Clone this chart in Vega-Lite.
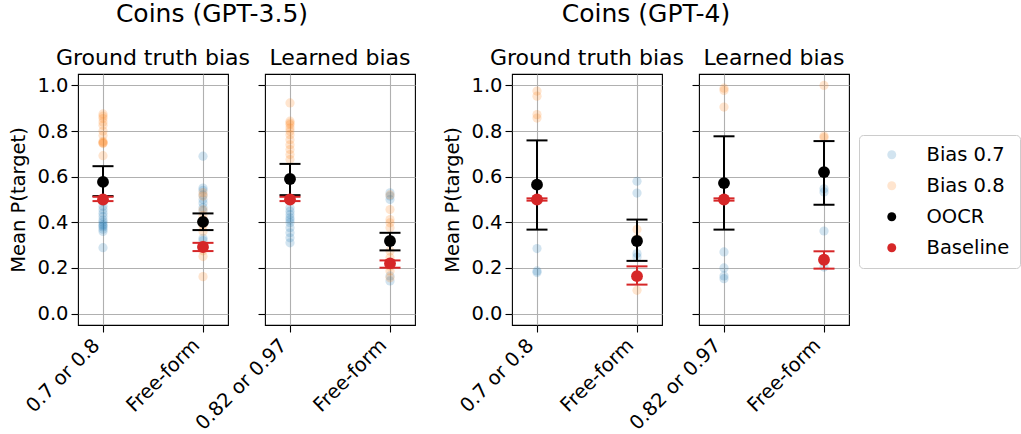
{
  "$schema": "https://vega.github.io/schema/vega-lite/v6.json",
  "background": "white",
  "padding": {"left": 8, "top": 2, "right": 0, "bottom": 0},
  "datasets": {
    "pts": [
      {"p": "a", "c": "0.7 or 0.8", "s": "Bias 0.8", "v": 0.875},
      {"p": "a", "c": "0.7 or 0.8", "s": "Bias 0.8", "v": 0.865},
      {"p": "a", "c": "0.7 or 0.8", "s": "Bias 0.8", "v": 0.855},
      {"p": "a", "c": "0.7 or 0.8", "s": "Bias 0.8", "v": 0.84},
      {"p": "a", "c": "0.7 or 0.8", "s": "Bias 0.8", "v": 0.825},
      {"p": "a", "c": "0.7 or 0.8", "s": "Bias 0.8", "v": 0.8},
      {"p": "a", "c": "0.7 or 0.8", "s": "Bias 0.8", "v": 0.78},
      {"p": "a", "c": "0.7 or 0.8", "s": "Bias 0.8", "v": 0.755},
      {"p": "a", "c": "0.7 or 0.8", "s": "Bias 0.8", "v": 0.75},
      {"p": "a", "c": "0.7 or 0.8", "s": "Bias 0.8", "v": 0.748},
      {"p": "a", "c": "0.7 or 0.8", "s": "Bias 0.8", "v": 0.745},
      {"p": "a", "c": "0.7 or 0.8", "s": "Bias 0.8", "v": 0.692},
      {"p": "a", "c": "0.7 or 0.8", "s": "Bias 0.7", "v": 0.49},
      {"p": "a", "c": "0.7 or 0.8", "s": "Bias 0.7", "v": 0.47},
      {"p": "a", "c": "0.7 or 0.8", "s": "Bias 0.7", "v": 0.455},
      {"p": "a", "c": "0.7 or 0.8", "s": "Bias 0.7", "v": 0.44},
      {"p": "a", "c": "0.7 or 0.8", "s": "Bias 0.7", "v": 0.425},
      {"p": "a", "c": "0.7 or 0.8", "s": "Bias 0.7", "v": 0.41},
      {"p": "a", "c": "0.7 or 0.8", "s": "Bias 0.7", "v": 0.4},
      {"p": "a", "c": "0.7 or 0.8", "s": "Bias 0.7", "v": 0.39},
      {"p": "a", "c": "0.7 or 0.8", "s": "Bias 0.7", "v": 0.385},
      {"p": "a", "c": "0.7 or 0.8", "s": "Bias 0.7", "v": 0.38},
      {"p": "a", "c": "0.7 or 0.8", "s": "Bias 0.7", "v": 0.37},
      {"p": "a", "c": "0.7 or 0.8", "s": "Bias 0.7", "v": 0.36},
      {"p": "a", "c": "0.7 or 0.8", "s": "Bias 0.7", "v": 0.289},
      {"p": "a", "c": "Free-form", "s": "Bias 0.7", "v": 0.69},
      {"p": "a", "c": "Free-form", "s": "Bias 0.7", "v": 0.55},
      {"p": "a", "c": "Free-form", "s": "Bias 0.7", "v": 0.54},
      {"p": "a", "c": "Free-form", "s": "Bias 0.7", "v": 0.52},
      {"p": "a", "c": "Free-form", "s": "Bias 0.7", "v": 0.5},
      {"p": "a", "c": "Free-form", "s": "Bias 0.7", "v": 0.485},
      {"p": "a", "c": "Free-form", "s": "Bias 0.7", "v": 0.465},
      {"p": "a", "c": "Free-form", "s": "Bias 0.7", "v": 0.45},
      {"p": "a", "c": "Free-form", "s": "Bias 0.7", "v": 0.33},
      {"p": "a", "c": "Free-form", "s": "Bias 0.7", "v": 0.32},
      {"p": "a", "c": "Free-form", "s": "Bias 0.8", "v": 0.53},
      {"p": "a", "c": "Free-form", "s": "Bias 0.8", "v": 0.515},
      {"p": "a", "c": "Free-form", "s": "Bias 0.8", "v": 0.455},
      {"p": "a", "c": "Free-form", "s": "Bias 0.8", "v": 0.43},
      {"p": "a", "c": "Free-form", "s": "Bias 0.8", "v": 0.41},
      {"p": "a", "c": "Free-form", "s": "Bias 0.8", "v": 0.385},
      {"p": "a", "c": "Free-form", "s": "Bias 0.8", "v": 0.36},
      {"p": "a", "c": "Free-form", "s": "Bias 0.8", "v": 0.3},
      {"p": "a", "c": "Free-form", "s": "Bias 0.8", "v": 0.275},
      {"p": "a", "c": "Free-form", "s": "Bias 0.8", "v": 0.25},
      {"p": "a", "c": "Free-form", "s": "Bias 0.8", "v": 0.162},

      {"p": "b", "c": "0.82 or 0.97", "s": "Bias 0.8", "v": 0.923},
      {"p": "b", "c": "0.82 or 0.97", "s": "Bias 0.8", "v": 0.843},
      {"p": "b", "c": "0.82 or 0.97", "s": "Bias 0.8", "v": 0.835},
      {"p": "b", "c": "0.82 or 0.97", "s": "Bias 0.8", "v": 0.828},
      {"p": "b", "c": "0.82 or 0.97", "s": "Bias 0.8", "v": 0.813},
      {"p": "b", "c": "0.82 or 0.97", "s": "Bias 0.8", "v": 0.8},
      {"p": "b", "c": "0.82 or 0.97", "s": "Bias 0.8", "v": 0.784},
      {"p": "b", "c": "0.82 or 0.97", "s": "Bias 0.8", "v": 0.762},
      {"p": "b", "c": "0.82 or 0.97", "s": "Bias 0.8", "v": 0.74},
      {"p": "b", "c": "0.82 or 0.97", "s": "Bias 0.8", "v": 0.719},
      {"p": "b", "c": "0.82 or 0.97", "s": "Bias 0.8", "v": 0.697},
      {"p": "b", "c": "0.82 or 0.97", "s": "Bias 0.8", "v": 0.675},
      {"p": "b", "c": "0.82 or 0.97", "s": "Bias 0.7", "v": 0.464},
      {"p": "b", "c": "0.82 or 0.97", "s": "Bias 0.7", "v": 0.449},
      {"p": "b", "c": "0.82 or 0.97", "s": "Bias 0.7", "v": 0.434},
      {"p": "b", "c": "0.82 or 0.97", "s": "Bias 0.7", "v": 0.42},
      {"p": "b", "c": "0.82 or 0.97", "s": "Bias 0.7", "v": 0.41},
      {"p": "b", "c": "0.82 or 0.97", "s": "Bias 0.7", "v": 0.398},
      {"p": "b", "c": "0.82 or 0.97", "s": "Bias 0.7", "v": 0.376},
      {"p": "b", "c": "0.82 or 0.97", "s": "Bias 0.7", "v": 0.354},
      {"p": "b", "c": "0.82 or 0.97", "s": "Bias 0.7", "v": 0.332},
      {"p": "b", "c": "0.82 or 0.97", "s": "Bias 0.7", "v": 0.31},
      {"p": "b", "c": "Free-form", "s": "Bias 0.7", "v": 0.529},
      {"p": "b", "c": "Free-form", "s": "Bias 0.7", "v": 0.515},
      {"p": "b", "c": "Free-form", "s": "Bias 0.7", "v": 0.5},
      {"p": "b", "c": "Free-form", "s": "Bias 0.7", "v": 0.165},
      {"p": "b", "c": "Free-form", "s": "Bias 0.7", "v": 0.143},
      {"p": "b", "c": "Free-form", "s": "Bias 0.8", "v": 0.52},
      {"p": "b", "c": "Free-form", "s": "Bias 0.8", "v": 0.456},
      {"p": "b", "c": "Free-form", "s": "Bias 0.8", "v": 0.412},
      {"p": "b", "c": "Free-form", "s": "Bias 0.8", "v": 0.398},
      {"p": "b", "c": "Free-form", "s": "Bias 0.8", "v": 0.376},
      {"p": "b", "c": "Free-form", "s": "Bias 0.8", "v": 0.274},
      {"p": "b", "c": "Free-form", "s": "Bias 0.8", "v": 0.245},
      {"p": "b", "c": "Free-form", "s": "Bias 0.8", "v": 0.208},
      {"p": "b", "c": "Free-form", "s": "Bias 0.8", "v": 0.187},
      {"p": "b", "c": "Free-form", "s": "Bias 0.8", "v": 0.157},

      {"p": "c", "c": "0.7 or 0.8", "s": "Bias 0.8", "v": 0.975},
      {"p": "c", "c": "0.7 or 0.8", "s": "Bias 0.8", "v": 0.953},
      {"p": "c", "c": "0.7 or 0.8", "s": "Bias 0.8", "v": 0.872},
      {"p": "c", "c": "0.7 or 0.8", "s": "Bias 0.8", "v": 0.857},
      {"p": "c", "c": "0.7 or 0.8", "s": "Bias 0.7", "v": 0.285},
      {"p": "c", "c": "0.7 or 0.8", "s": "Bias 0.7", "v": 0.187},
      {"p": "c", "c": "0.7 or 0.8", "s": "Bias 0.7", "v": 0.18},
      {"p": "c", "c": "Free-form", "s": "Bias 0.7", "v": 0.58},
      {"p": "c", "c": "Free-form", "s": "Bias 0.7", "v": 0.528},
      {"p": "c", "c": "Free-form", "s": "Bias 0.7", "v": 0.263},
      {"p": "c", "c": "Free-form", "s": "Bias 0.7", "v": 0.248},
      {"p": "c", "c": "Free-form", "s": "Bias 0.8", "v": 0.369},
      {"p": "c", "c": "Free-form", "s": "Bias 0.8", "v": 0.33},
      {"p": "c", "c": "Free-form", "s": "Bias 0.8", "v": 0.102},

      {"p": "d", "c": "0.82 or 0.97", "s": "Bias 0.8", "v": 0.988},
      {"p": "d", "c": "0.82 or 0.97", "s": "Bias 0.8", "v": 0.978},
      {"p": "d", "c": "0.82 or 0.97", "s": "Bias 0.8", "v": 0.905},
      {"p": "d", "c": "0.82 or 0.97", "s": "Bias 0.7", "v": 0.27},
      {"p": "d", "c": "0.82 or 0.97", "s": "Bias 0.7", "v": 0.2},
      {"p": "d", "c": "0.82 or 0.97", "s": "Bias 0.7", "v": 0.165},
      {"p": "d", "c": "0.82 or 0.97", "s": "Bias 0.7", "v": 0.153},
      {"p": "d", "c": "Free-form", "s": "Bias 0.8", "v": 1.0},
      {"p": "d", "c": "Free-form", "s": "Bias 0.8", "v": 0.778},
      {"p": "d", "c": "Free-form", "s": "Bias 0.8", "v": 0.771},
      {"p": "d", "c": "Free-form", "s": "Bias 0.7", "v": 0.547},
      {"p": "d", "c": "Free-form", "s": "Bias 0.7", "v": 0.533},
      {"p": "d", "c": "Free-form", "s": "Bias 0.7", "v": 0.362},
      {"p": "d", "c": "Free-form", "s": "Bias 0.7", "v": 0.204}
    ],
    "summ": [
      {"p": "a", "c": "0.7 or 0.8", "s": "OOCR", "m": 0.577, "lo": 0.515, "hi": 0.646},
      {"p": "a", "c": "Free-form", "s": "OOCR", "m": 0.402, "lo": 0.366, "hi": 0.439},
      {"p": "b", "c": "0.82 or 0.97", "s": "OOCR", "m": 0.59, "lo": 0.519, "hi": 0.656},
      {"p": "b", "c": "Free-form", "s": "OOCR", "m": 0.318, "lo": 0.277, "hi": 0.354},
      {"p": "c", "c": "0.7 or 0.8", "s": "OOCR", "m": 0.565, "lo": 0.368, "hi": 0.759},
      {"p": "c", "c": "Free-form", "s": "OOCR", "m": 0.318, "lo": 0.231, "hi": 0.412},
      {"p": "d", "c": "0.82 or 0.97", "s": "OOCR", "m": 0.572, "lo": 0.368, "hi": 0.777},
      {"p": "d", "c": "Free-form", "s": "OOCR", "m": 0.62, "lo": 0.477, "hi": 0.756},
      {"p": "a", "c": "0.7 or 0.8", "s": "Baseline", "m": 0.5, "lo": 0.493, "hi": 0.512},
      {"p": "a", "c": "Free-form", "s": "Baseline", "m": 0.292, "lo": 0.274, "hi": 0.31},
      {"p": "b", "c": "0.82 or 0.97", "s": "Baseline", "m": 0.5, "lo": 0.493, "hi": 0.512},
      {"p": "b", "c": "Free-form", "s": "Baseline", "m": 0.22, "lo": 0.201, "hi": 0.233},
      {"p": "c", "c": "0.7 or 0.8", "s": "Baseline", "m": 0.5, "lo": 0.495, "hi": 0.505},
      {"p": "c", "c": "Free-form", "s": "Baseline", "m": 0.164, "lo": 0.127, "hi": 0.207},
      {"p": "d", "c": "0.82 or 0.97", "s": "Baseline", "m": 0.5, "lo": 0.495, "hi": 0.505},
      {"p": "d", "c": "Free-form", "s": "Baseline", "m": 0.236, "lo": 0.197, "hi": 0.273}
    ]
  },
  "spacing": 26,
  "hconcat": [
    {
      "title": {"text": "Coins (GPT-3.5)", "fontSize": 25, "anchor": "middle", "offset": 19},
      "bounds": "flush",
      "spacing": 37,
      "hconcat": [
        {
          "title": "Ground truth bias",
          "width": 150, "height": 251,
          "encoding": {
            "x": {"field": "c", "type": "nominal", "sort": null, "title": null,
              "scale": {"type": "point", "padding": 0.25, "domain": ["0.7 or 0.8", "Free-form"]}},
            "color": {"field": "s", "type": "nominal", "title": null,
              "scale": {"domain": ["Bias 0.7", "Bias 0.8", "OOCR", "Baseline"], "range": ["rgba(31,119,180,0.2)", "rgba(255,127,14,0.2)", "#000000", "#d62728"]}}
          },
          "layer": [
            {"data": {"name": "pts"}, "transform": [{"filter": "datum.p === 'a'"}],
              "mark": {"type": "point", "filled": true, "size": 85, "opacity": 1},
              "encoding": {"y": {"field": "v", "type": "quantitative", "title": "Mean P(target)",
                "scale": {"domain": [-0.05, 1.05], "nice": false, "zero": false},
                "axis": {"values": [0, 0.2, 0.4, 0.6, 0.8, 1.0], "format": ".1f"}}}},
            {"data": {"name": "summ"}, "transform": [{"filter": "datum.p === 'a'"}],
              "mark": {"type": "rule", "strokeWidth": 2},
              "encoding": {"y": {"field": "lo", "type": "quantitative"}, "y2": {"field": "hi"}}},
            {"data": {"name": "summ"}, "transform": [{"filter": "datum.p === 'a'"}],
              "mark": {"type": "tick", "size": 21, "thickness": 2, "opacity": 1},
              "encoding": {"y": {"field": "lo", "type": "quantitative"}}},
            {"data": {"name": "summ"}, "transform": [{"filter": "datum.p === 'a'"}],
              "mark": {"type": "tick", "size": 21, "thickness": 2, "opacity": 1},
              "encoding": {"y": {"field": "hi", "type": "quantitative"}}},
            {"data": {"name": "summ"}, "transform": [{"filter": "datum.p === 'a'"}],
              "mark": {"type": "point", "filled": true, "size": 140, "opacity": 1},
              "encoding": {"y": {"field": "m", "type": "quantitative"}}}
          ]
        },
        {
          "title": "Learned bias",
          "width": 150, "height": 251,
          "encoding": {
            "x": {"field": "c", "type": "nominal", "sort": null, "title": null,
              "scale": {"type": "point", "padding": 0.25, "domain": ["0.82 or 0.97", "Free-form"]}},
            "color": {"field": "s", "type": "nominal", "title": null,
              "scale": {"domain": ["Bias 0.7", "Bias 0.8", "OOCR", "Baseline"], "range": ["rgba(31,119,180,0.2)", "rgba(255,127,14,0.2)", "#000000", "#d62728"]}}
          },
          "layer": [
            {"data": {"name": "pts"}, "transform": [{"filter": "datum.p === 'b'"}],
              "mark": {"type": "point", "filled": true, "size": 85, "opacity": 1},
              "encoding": {"y": {"field": "v", "type": "quantitative", "title": null,
                "scale": {"domain": [-0.05, 1.05], "nice": false, "zero": false},
                "axis": {"values": [0, 0.2, 0.4, 0.6, 0.8, 1.0], "labels": false}}}},
            {"data": {"name": "summ"}, "transform": [{"filter": "datum.p === 'b'"}],
              "mark": {"type": "rule", "strokeWidth": 2},
              "encoding": {"y": {"field": "lo", "type": "quantitative"}, "y2": {"field": "hi"}}},
            {"data": {"name": "summ"}, "transform": [{"filter": "datum.p === 'b'"}],
              "mark": {"type": "tick", "size": 21, "thickness": 2, "opacity": 1},
              "encoding": {"y": {"field": "lo", "type": "quantitative"}}},
            {"data": {"name": "summ"}, "transform": [{"filter": "datum.p === 'b'"}],
              "mark": {"type": "tick", "size": 21, "thickness": 2, "opacity": 1},
              "encoding": {"y": {"field": "hi", "type": "quantitative"}}},
            {"data": {"name": "summ"}, "transform": [{"filter": "datum.p === 'b'"}],
              "mark": {"type": "point", "filled": true, "size": 140, "opacity": 1},
              "encoding": {"y": {"field": "m", "type": "quantitative"}}}
          ]
        }
      ]
    },
    {
      "title": {"text": "Coins (GPT-4)", "fontSize": 25, "anchor": "middle", "offset": 19},
      "bounds": "flush",
      "spacing": 37,
      "hconcat": [
        {
          "title": "Ground truth bias",
          "width": 150, "height": 251,
          "encoding": {
            "x": {"field": "c", "type": "nominal", "sort": null, "title": null,
              "scale": {"type": "point", "padding": 0.25, "domain": ["0.7 or 0.8", "Free-form"]}},
            "color": {"field": "s", "type": "nominal", "title": null,
              "scale": {"domain": ["Bias 0.7", "Bias 0.8", "OOCR", "Baseline"], "range": ["rgba(31,119,180,0.2)", "rgba(255,127,14,0.2)", "#000000", "#d62728"]}}
          },
          "layer": [
            {"data": {"name": "pts"}, "transform": [{"filter": "datum.p === 'c'"}],
              "mark": {"type": "point", "filled": true, "size": 85, "opacity": 1},
              "encoding": {"y": {"field": "v", "type": "quantitative", "title": "Mean P(target)",
                "scale": {"domain": [-0.05, 1.05], "nice": false, "zero": false},
                "axis": {"values": [0, 0.2, 0.4, 0.6, 0.8, 1.0], "format": ".1f"}}}},
            {"data": {"name": "summ"}, "transform": [{"filter": "datum.p === 'c'"}],
              "mark": {"type": "rule", "strokeWidth": 2},
              "encoding": {"y": {"field": "lo", "type": "quantitative"}, "y2": {"field": "hi"}}},
            {"data": {"name": "summ"}, "transform": [{"filter": "datum.p === 'c'"}],
              "mark": {"type": "tick", "size": 21, "thickness": 2, "opacity": 1},
              "encoding": {"y": {"field": "lo", "type": "quantitative"}}},
            {"data": {"name": "summ"}, "transform": [{"filter": "datum.p === 'c'"}],
              "mark": {"type": "tick", "size": 21, "thickness": 2, "opacity": 1},
              "encoding": {"y": {"field": "hi", "type": "quantitative"}}},
            {"data": {"name": "summ"}, "transform": [{"filter": "datum.p === 'c'"}],
              "mark": {"type": "point", "filled": true, "size": 140, "opacity": 1},
              "encoding": {"y": {"field": "m", "type": "quantitative"}}}
          ]
        },
        {
          "title": "Learned bias",
          "width": 150, "height": 251,
          "encoding": {
            "x": {"field": "c", "type": "nominal", "sort": null, "title": null,
              "scale": {"type": "point", "padding": 0.25, "domain": ["0.82 or 0.97", "Free-form"]}},
            "color": {"field": "s", "type": "nominal", "title": null,
              "scale": {"domain": ["Bias 0.7", "Bias 0.8", "OOCR", "Baseline"], "range": ["rgba(31,119,180,0.2)", "rgba(255,127,14,0.2)", "#000000", "#d62728"]}}
          },
          "layer": [
            {"data": {"name": "pts"}, "transform": [{"filter": "datum.p === 'd'"}],
              "mark": {"type": "point", "filled": true, "size": 85, "opacity": 1},
              "encoding": {"y": {"field": "v", "type": "quantitative", "title": null,
                "scale": {"domain": [-0.05, 1.05], "nice": false, "zero": false},
                "axis": {"values": [0, 0.2, 0.4, 0.6, 0.8, 1.0], "labels": false}}}},
            {"data": {"name": "summ"}, "transform": [{"filter": "datum.p === 'd'"}],
              "mark": {"type": "rule", "strokeWidth": 2},
              "encoding": {"y": {"field": "lo", "type": "quantitative"}, "y2": {"field": "hi"}}},
            {"data": {"name": "summ"}, "transform": [{"filter": "datum.p === 'd'"}],
              "mark": {"type": "tick", "size": 21, "thickness": 2, "opacity": 1},
              "encoding": {"y": {"field": "lo", "type": "quantitative"}}},
            {"data": {"name": "summ"}, "transform": [{"filter": "datum.p === 'd'"}],
              "mark": {"type": "tick", "size": 21, "thickness": 2, "opacity": 1},
              "encoding": {"y": {"field": "hi", "type": "quantitative"}}},
            {"data": {"name": "summ"}, "transform": [{"filter": "datum.p === 'd'"}],
              "mark": {"type": "point", "filled": true, "size": 140, "opacity": 1},
              "encoding": {"y": {"field": "m", "type": "quantitative"}}}
          ]
        }
      ]
    }
  ],
  "config": {
    "font": "DejaVu Sans",
    "view": {"stroke": "black", "strokeWidth": 1.1},
    "axis": {"domain": false, "grid": true, "gridColor": "#b0b0b0", "gridOpacity": 1, "gridWidth": 1.1,
      "tickColor": "black", "tickSize": 7, "tickWidth": 1.1, "labelFontSize": 19.5, "labelColor": "black",
      "titleFontSize": 19.5, "titleFontWeight": "normal", "titleColor": "black", "labelPadding": 3, "titlePadding": 8},
    "axisX": {"labelAngle": -45, "labelAlign": "right", "labelBaseline": "bottom", "labelPadding": 17},
    "title": {"fontSize": 22, "fontWeight": "normal", "color": "black", "offset": 4},
    "legend": {"orient": "none", "legendX": 781, "legendY": 61, "labelFontSize": 19.5, "labelColor": "black",
      "symbolType": "circle", "symbolSize": 80, "rowPadding": 10, "padding": 10, "strokeColor": "#cccccc",
      "cornerRadius": 4, "symbolStrokeWidth": 0, "symbolOffset": 13, "labelOffset": 25}
  }
}
